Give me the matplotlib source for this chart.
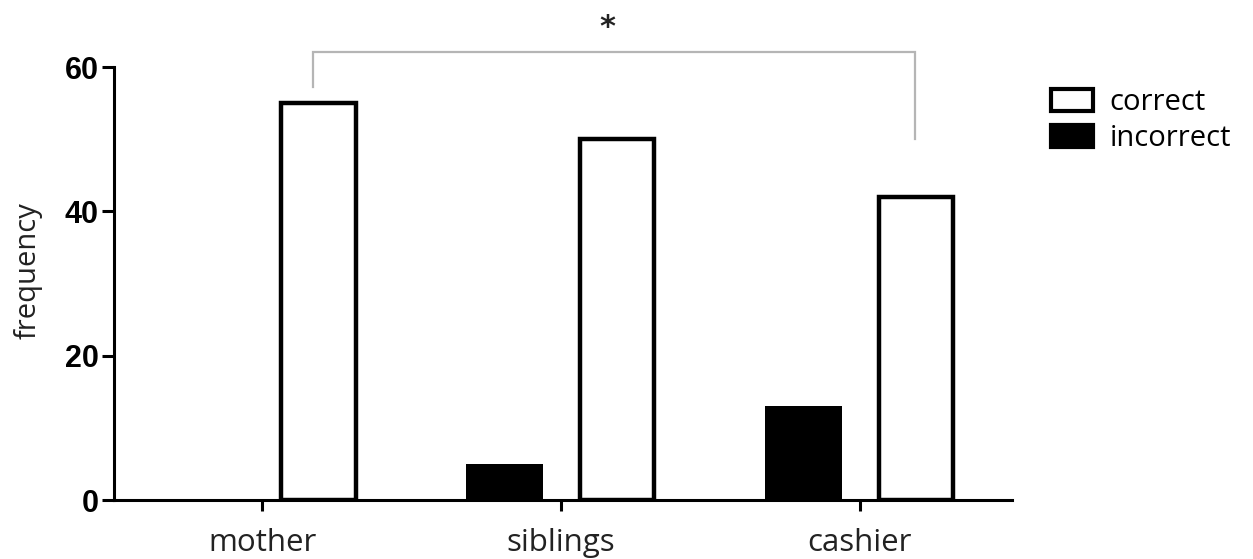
import matplotlib
matplotlib.use("Agg")
import matplotlib.pyplot as plt
from matplotlib.patches import Patch
import numpy as np

categories = ["mother", "siblings", "cashier"]
correct = [55, 50, 42]
incorrect = [0, 5, 13]
yticks = [0, 20, 40, 60]

fig = plt.figure(figsize=(12.53, 5.59), dpi=100)
ax = fig.add_axes([0.091, 0.1055, 0.7167, 0.7746])

x = np.arange(len(categories))
off = 0.188
ax.bar(x - off, incorrect, 0.258, color="black", linewidth=0, label="incorrect")
ax.bar(x + off, correct, 0.25, color="white", edgecolor="black", linewidth=3.2, label="correct")

ax.set_xlim(-0.496, 2.51)
ax.set_ylim(0, 60)
ax.set_yticks(yticks)
ax.set_yticklabels([str(v) for v in yticks], fontsize=22, fontweight="bold", family="Liberation Sans")
ax.set_xticks(x)
ax.set_xticklabels(categories, fontsize=22.5, family="Open Sans", color="#222222")
for s in ["top", "right"]:
    ax.spines[s].set_visible(False)
for s in ["left", "bottom"]:
    ax.spines[s].set_linewidth(2.2)
ax.spines["left"].set_bounds(0, 60)
ax.tick_params(axis="y", length=9, width=2.2, pad=2)
ax.tick_params(axis="x", length=8, width=2.2, pad=12)
ax.set_ylabel("frequency", fontsize=21, family="Open Sans", color="#222222")
ax.yaxis.set_label_coords(-0.079, 0.531)

# significance bracket between mother and cashier "correct" bars
bx0, bx1 = 0 + 0.17, 2 + 0.184
ax.plot([bx0, bx0, bx1, bx1], [57.2, 62.05, 62.05, 50.0], color="#b5b5b5", lw=1.6,
        clip_on=False, solid_joinstyle="miter")
ax.text(1.155, 65.5, "*", ha="center", va="center", fontsize=22, fontweight="bold",
        family="DejaVu Sans", color="#222222", clip_on=False)

handles = [Patch(facecolor="white", edgecolor="black", linewidth=3),
           Patch(facecolor="black", edgecolor="black", linewidth=3)]
fig.legend(handles, ["correct", "incorrect"], loc="upper left",
           bbox_to_anchor=(1051 / 1253, 1 - 88 / 559), frameon=False,
           prop={"family": "Open Sans", "size": 21}, handlelength=1.45, handleheight=0.8,
           handletextpad=0.55, labelspacing=0.25, borderaxespad=0, borderpad=0.0)

fig.savefig("out.png", dpi=100)
